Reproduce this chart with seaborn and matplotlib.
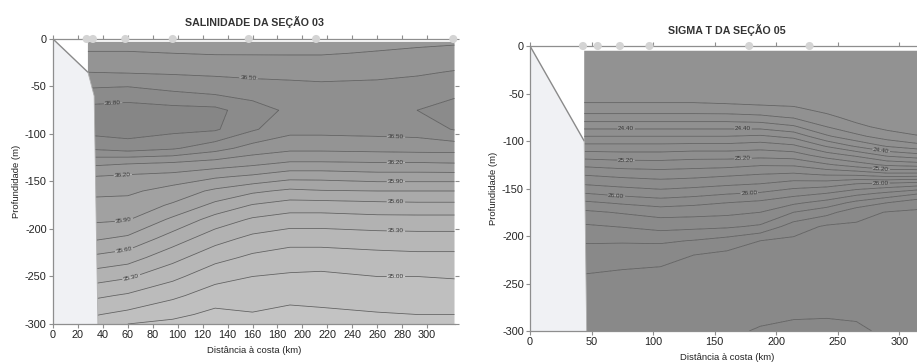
import numpy as np
import pandas as pd
import matplotlib
matplotlib.use("Agg")
import matplotlib.pyplot as plt
import seaborn as sns
from matplotlib.colors import LinearSegmentedColormap

# ---------------- data: salinity section 03 ----------------
sal_dist = [28, 60, 96, 130, 160, 190, 215, 260, 292, 322]          # km
sal_depth = [3, 15, 35, 55, 75, 95, 115, 130, 145, 160, 175, 190,
             210, 230, 250, 270, 290, 300]                           # m
# rows = depth, cols = distance
sal_values = [
    [36.30, 36.30, 36.30, 36.30, 36.29, 36.29, 36.30, 36.31, 36.32, 36.33],
    [36.36, 36.36, 36.35, 36.34, 36.34, 36.34, 36.34, 36.36, 36.38, 36.40],
    [36.50, 36.49, 36.48, 36.47, 36.46, 36.45, 36.45, 36.46, 36.48, 36.51],
    [36.68, 36.70, 36.65, 36.61, 36.58, 36.57, 36.55, 36.56, 36.58, 36.62],
    [36.85, 36.87, 36.85, 36.84, 36.72, 36.62, 36.59, 36.61, 36.65, 36.70],
    [36.86, 36.88, 36.84, 36.82, 36.67, 36.55, 36.55, 36.56, 36.57, 36.66],
    [36.67, 36.72, 36.67, 36.56, 36.44, 36.39, 36.39, 36.40, 36.41, 36.41],
    [36.40, 36.37, 36.35, 36.30, 36.25, 36.19, 36.19, 36.20, 36.20, 36.21],
    [36.20, 36.17, 36.14, 36.07, 36.02, 35.95, 35.95, 35.98, 35.98, 35.98],
    [36.09, 36.08, 35.99, 35.87, 35.78, 35.72, 35.74, 35.75, 35.75, 35.75],
    [36.00, 35.99, 35.88, 35.71, 35.59, 35.53, 35.53, 35.55, 35.56, 35.56],
    [35.93, 35.91, 35.72, 35.54, 35.43, 35.38, 35.38, 35.40, 35.40, 35.40],
    [35.78, 35.72, 35.53, 35.36, 35.26, 35.21, 35.21, 35.23, 35.24, 35.24],
    [35.58, 35.52, 35.35, 35.20, 35.12, 35.08, 35.08, 35.10, 35.11, 35.11],
    [35.38, 35.32, 35.19, 35.05, 35.00, 34.98, 34.97, 35.00, 35.00, 35.01],
    [35.19, 35.13, 35.03, 34.93, 34.92, 34.89, 34.90, 34.92, 34.92, 34.93],
    [35.02, 34.96, 34.89, 34.81, 34.84, 34.81, 34.82, 34.84, 34.85, 34.85],
    [34.95, 34.85, 34.81, 34.76, 34.81, 34.78, 34.80, 34.81, 34.82, 34.83],
]
sal_levels = [34.85, 35.00, 35.15, 35.30, 35.45, 35.60, 35.75, 35.90,
              36.05, 36.20, 36.35, 36.50, 36.65, 36.80]
sal_label_levels = [35.00, 35.30, 35.60, 35.90, 36.20, 36.50, 36.80]
sal_stations = [27, 32, 58, 96, 157, 211, 321]
sal_coast_x = [0, 28, 33, 36]
sal_coast_depth = [0, 35, 60, 300]

# ---------------- data: sigma-t section 05 ----------------
sig_dist = [44, 75, 106, 133, 160, 187, 214, 241, 265, 290, 320]
sig_depth = [5, 30, 55, 65, 75, 85, 95, 105, 115, 125, 135, 145, 155,
             165, 175, 190, 205, 220, 240, 260, 280, 300]
sig_values = [
    [23.55, 23.55, 23.55, 23.55, 23.55, 23.55, 23.55, 23.55, 23.55, 23.55, 23.55],
    [23.62, 23.62, 23.62, 23.62, 23.62, 23.62, 23.62, 23.60, 23.58, 23.57, 23.57],
    [23.74, 23.74, 23.74, 23.74, 23.72, 23.70, 23.68, 23.66, 23.63, 23.61, 23.60],
    [23.87, 23.87, 23.87, 23.87, 23.86, 23.84, 23.82, 23.72, 23.67, 23.64, 23.62],
    [24.08, 24.08, 24.08, 24.08, 24.08, 24.05, 23.98, 23.85, 23.73, 23.68, 23.65],
    [24.34, 24.34, 24.34, 24.34, 24.34, 24.33, 24.23, 24.00, 23.85, 23.74, 23.70],
    [24.60, 24.60, 24.60, 24.60, 24.60, 24.63, 24.54, 24.23, 24.05, 23.90, 23.80],
    [24.85, 24.85, 24.85, 24.86, 24.86, 24.90, 24.83, 24.57, 24.36, 24.17, 24.04],
    [25.10, 25.08, 25.08, 25.11, 25.11, 25.13, 25.10, 24.90, 24.76, 24.56, 24.45],
    [25.35, 25.31, 25.30, 25.32, 25.33, 25.38, 25.37, 25.23, 25.10, 24.96, 24.90],
    [25.58, 25.53, 25.50, 25.52, 25.56, 25.60, 25.63, 25.57, 25.55, 25.46, 25.47],
    [25.78, 25.73, 25.69, 25.72, 25.76, 25.80, 25.88, 25.90, 26.00, 26.04, 26.10],
    [26.00, 25.93, 25.88, 25.92, 25.98, 26.02, 26.12, 26.20, 26.33, 26.44, 26.60],
    [26.24, 26.17, 26.11, 26.15, 26.20, 26.25, 26.36, 26.48, 26.66, 26.80, 26.96],
    [26.44, 26.38, 26.32, 26.33, 26.35, 26.40, 26.60, 26.73, 26.93, 27.01, 27.02],
    [26.63, 26.59, 26.53, 26.55, 26.57, 26.63, 26.90, 27.03, 27.03, 27.04, 27.04],
    [26.78, 26.78, 26.77, 26.81, 26.88, 27.00, 27.04, 27.06, 27.06, 27.07, 27.06],
    [26.88, 26.90, 26.92, 27.00, 27.05, 27.06, 27.07, 27.09, 27.09, 27.10, 27.08],
    [27.00, 27.03, 27.05, 27.08, 27.10, 27.10, 27.11, 27.12, 27.12, 27.12, 27.10],
    [27.05, 27.08, 27.09, 27.11, 27.13, 27.14, 27.14, 27.15, 27.15, 27.14, 27.12],
    [27.10, 27.12, 27.13, 27.14, 27.15, 27.17, 27.18, 27.18, 27.18, 27.16, 27.14],
    [27.15, 27.15, 27.16, 27.17, 27.18, 27.21, 27.23, 27.24, 27.22, 27.18, 27.16],
]
sig_levels = [23.8, 24.0, 24.2, 24.4, 24.6, 24.8, 25.0, 25.2, 25.4, 25.6,
              25.8, 26.0, 26.2, 26.4, 26.6, 26.8, 27.0, 27.2]
sig_label_levels = [24.4, 25.2, 26.0]
sig_stations = [43, 55, 73, 97, 178, 227]
sig_coast_x = [0, 44, 46]
sig_coast_depth = [0, 100, 300]

# ---------------- style ----------------
sns.set_theme(style="white")
plt.rcParams['font.family'] = ['Liberation Sans', 'DejaVu Sans']
plt.rcParams['axes.unicode_minus'] = False

fig = plt.figure(figsize=(9.17, 3.62), dpi=100)
axL = fig.add_axes([0.0578, 0.105, 0.4384, 0.7873])
axR = fig.add_axes([0.578, 0.0856, 0.4297, 0.7873])

LAND = '#f0f1f4'
SPINE = '#8e8e8e'
LINE = '#595959'
TXT = '#222222'


def draw_section(ax, dist, depth, values, levels, label_levels, cmap, vmin, vmax,
                 coast_x, coast_d, stations, xmax, xticks, title, manual):
    X, D = np.meshgrid(np.array(dist, float), -np.array(depth, float))
    Z = np.array(values, float)
    lv = np.array(levels)
    ax.contourf(X, D, Z, levels=np.r_[vmin - 5, lv, vmax + 5], cmap=cmap,
                vmin=vmin, vmax=vmax, zorder=1, antialiased=True)
    is_lab = np.array([np.any(np.isclose(l, label_levels)) for l in lv])
    ax.contour(X, D, Z, levels=lv[~is_lab], colors=LINE, linewidths=0.55, zorder=2)
    cs = ax.contour(X, D, Z, levels=lv[is_lab], colors=LINE, linewidths=0.55, zorder=2)
    ax.clabel(cs, fmt='%.2f', fontsize=4.6, colors='#383838',
              inline=True, inline_spacing=2, manual=manual)
    # coast / slope
    cx = list(coast_x)
    cd = [-v for v in coast_d]
    ax.fill(cx + [0], cd + [-300], color=LAND, zorder=3, lw=0)
    ax.plot(cx[:2], cd[:2], color='#8a8a8a', lw=1.0, zorder=4)
    ax.plot(cx[1:], cd[1:], color='#b0b0b0', lw=0.6, zorder=4)
    # stations
    st = pd.DataFrame({'x': stations, 'y': np.zeros(len(stations))})
    sns.scatterplot(data=st, x='x', y='y', ax=ax, s=34, color='#d4d4d4',
                    edgecolor='none', zorder=6, clip_on=False, legend=False)
    ax.set_xlim(0, xmax)
    ax.set_ylim(-300, 0)
    ax.set_xticks(xticks)
    ax.set_yticks([0, -50, -100, -150, -200, -250, -300])
    ax.set_yticklabels(['0', '-50', '-100', '-150', '-200', '-250', '-300'])
    for s in ['left', 'bottom', 'top']:
        ax.spines[s].set_visible(True)
        ax.spines[s].set_color(SPINE)
        ax.spines[s].set_linewidth(0.9)
        ax.spines[s].set_zorder(5)
    ax.spines['right'].set_visible(False)
    ax.tick_params(axis='both', which='both', labelsize=7.8, colors=SPINE,
                   labelcolor=TXT, pad=1.5)
    ax.tick_params(axis='x', top=True, bottom=True, direction='out', length=3,
                   width=0.8)
    ax.tick_params(axis='y', left=True, right=True, direction='out', length=3,
                   width=0.8)
    ax.set_xlabel('Distância à costa (km)', fontsize=6.8, color=TXT, labelpad=4)
    ax.set_ylabel('Profundidade (m)', fontsize=6.8, color=TXT, labelpad=3)
    ax.set_title(title, fontsize=7.7, fontweight='bold', color='#333333', pad=9)


salcmap = LinearSegmentedColormap.from_list('sal', ['#c3c3c3', '#868686'])
sigcmap = LinearSegmentedColormap.from_list('sig', ['#929292', '#888888'])

sal_manual = [(157, -36), (48, -60), (275, -105), (275, -130), (275, -150),
              (275, -172), (275, -201), (275, -251), (56, -142), (57, -193),
              (57, -222), (63, -252)]
sig_manual = [(78, -87), (173, -87), (285, -111), (78, -120), (173, -119),
              (285, -131), (70, -157), (178, -155), (285, -144)]

draw_section(axL, sal_dist, sal_depth, sal_values, sal_levels, sal_label_levels,
             salcmap, 34.8, 36.9, sal_coast_x, sal_coast_depth, sal_stations,
             322.4, list(range(0, 301, 20)), 'SALINIDADE DA SEÇÃO 03', sal_manual)
draw_section(axR, sig_dist, sig_depth, sig_values, sig_levels, sig_label_levels,
             sigcmap, 23.5, 27.3, sig_coast_x, sig_coast_depth, sig_stations,
             320, [0, 50, 100, 150, 200, 250, 300], 'SIGMA T DA SEÇÃO 05', sig_manual)

fig.savefig('out.png', dpi=100, facecolor='white')
